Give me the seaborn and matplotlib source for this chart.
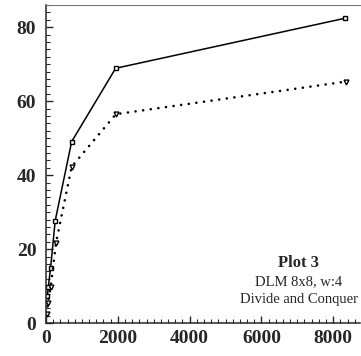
import numpy as np
import pandas as pd
import matplotlib
matplotlib.use("Agg")
import matplotlib.pyplot as plt
from matplotlib.ticker import MultipleLocator
import seaborn as sns

# values
x_solid = [40, 64, 128, 256, 715, 1940, 8320]
y_solid = [7.5, 9.8, 15.0, 27.7, 49.1, 68.9, 82.4]
x_dotted = [32, 48, 128, 280, 715, 1945, 8350]
y_dotted = [2.5, 5.4, 9.7, 21.8, 42.3, 56.5, 65.3]
x_ticks = [0, 2000, 4000, 6000, 8000]
y_ticks = [0, 20, 40, 60, 80]
caption = ["Plot 3", "DLM 8x8, w:4", "Divide and Conquer"]

sns.set_style("ticks")
plt.rcParams['font.family'] = ['Liberation Serif', 'DejaVu Serif']

df_s = pd.DataFrame({'x': x_solid, 'y': y_solid})
df_d = pd.DataFrame({'x': x_dotted, 'y': y_dotted})

fig = plt.figure(figsize=(3.61, 3.56), dpi=100)
ax = fig.add_axes([46/361, 1-323.3/356, (360-46)/361, (323.3-5)/356])

sns.lineplot(data=df_s, x='x', y='y', ax=ax, color='black', lw=1.1,
             marker='s', markersize=3.5, markerfacecolor='white',
             markeredgecolor='black', markeredgewidth=1.0, sort=False)
sns.lineplot(data=df_d, x='x', y='y', ax=ax, color='black', lw=1.9,
             linestyle=(0, (0.01, 2.9)), dash_capstyle='round',
             marker='v', markersize=3.5, markerfacecolor='white',
             markeredgecolor='black', markeredgewidth=1.0, sort=False)

ax.set_xlim(0, 8746)
ax.set_ylim(0, 86)
ax.set_xticks(x_ticks)
ax.set_yticks(y_ticks)
ax.xaxis.set_minor_locator(MultipleLocator(200))
ax.yaxis.set_minor_locator(MultipleLocator(2))
ax.tick_params(which='major', direction='in', length=5, width=1, pad=5,
               labelsize=14)
ax.tick_params(which='minor', direction='in', length=3, width=0.8)
ax.tick_params(axis='y', pad=7)
for lab in ax.get_xticklabels() + ax.get_yticklabels():
    lab.set_fontweight('bold')
ax.set_xlabel('')
ax.set_ylabel('')

ax.spines['right'].set_visible(False)
ax.spines['top'].set_color('#777777')
ax.spines['top'].set_linewidth(0.8)
ax.spines['left'].set_linewidth(1.1)
ax.spines['bottom'].set_linewidth(1.1)

cx = (299 - 46) / 314
ax.text(cx, 0.19, caption[0], transform=ax.transAxes, ha='center',
        va='center', fontsize=12, fontweight='bold')
ax.text(cx, 0.132, caption[1], transform=ax.transAxes, ha='center',
        va='center', fontsize=10.5)
ax.text(cx, 0.074, caption[2], transform=ax.transAxes, ha='center',
        va='center', fontsize=10.5)

plt.savefig('out.png', dpi=100)
